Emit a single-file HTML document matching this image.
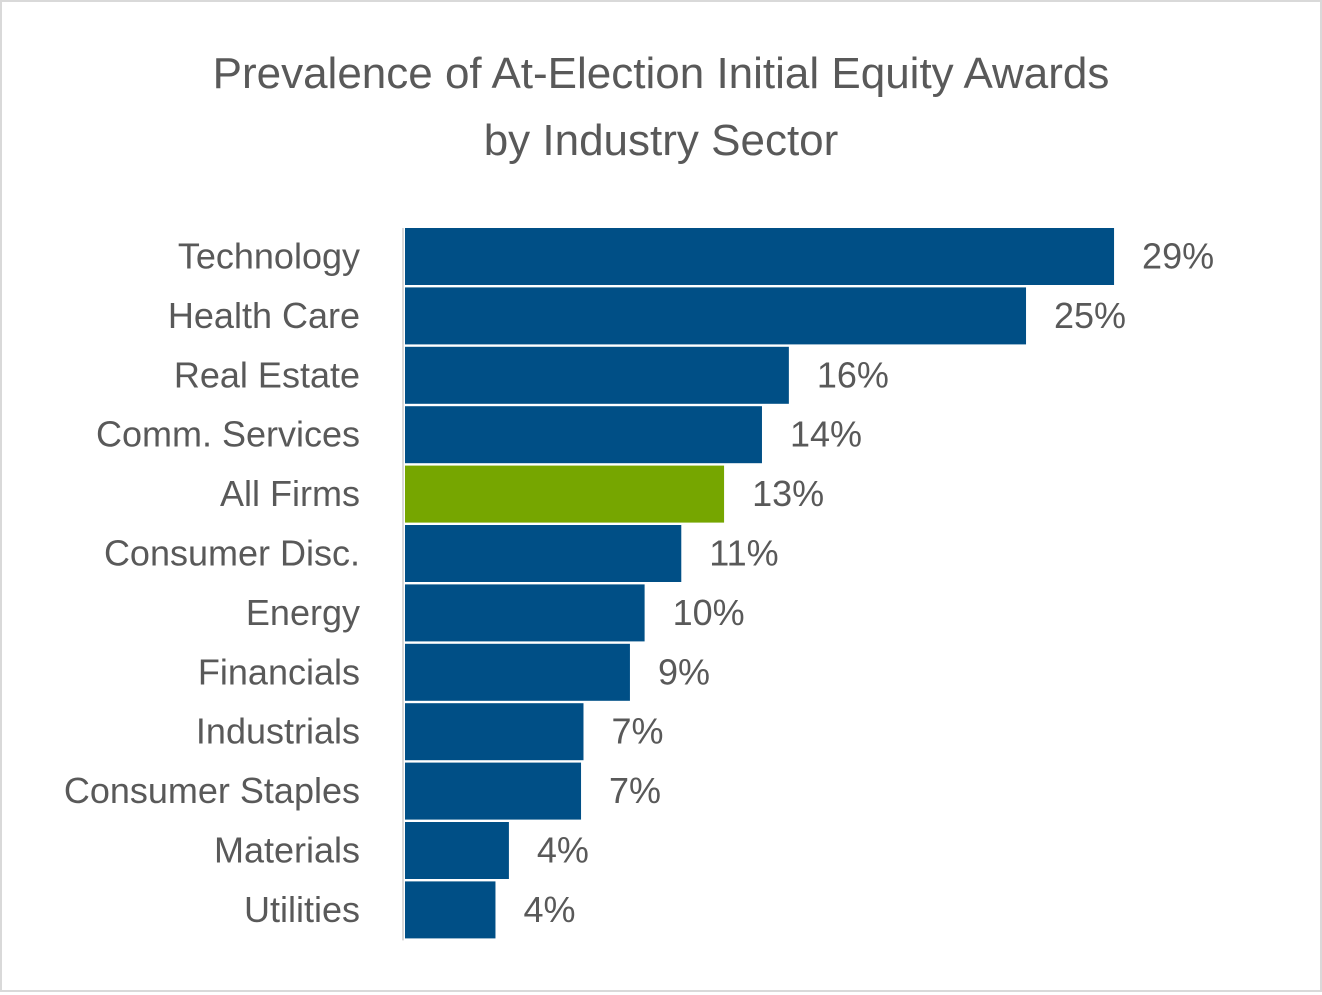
<!DOCTYPE html>
<html><head><meta charset="utf-8"><style>
html,body{margin:0;padding:0;background:#fff}
#wrap{position:relative;width:1322px;height:992px;box-sizing:border-box;border:2px solid #d9d9d9;font-family:"Liberation Sans",sans-serif;color:#595959}
</style></head><body>
<div id="wrap">
<svg id="chart" width="1318" height="988"></svg>
</div>
<script>
const categories=["Technology","Health Care","Real Estate","Comm. Services","All Firms","Consumer Disc.","Energy","Financials","Industrials","Consumer Staples","Materials","Utilities"];
const values=[29,25.4,15.7,14.6,13.05,11.3,9.8,9.2,7.3,7.2,4.25,3.7];
const valueLabels=["29%","25%","16%","14%","13%","11%","10%","9%","7%","7%","4%","4%"];
const highlight=["All Firms"];
const NS="http://www.w3.org/2000/svg";
const svg=document.getElementById('chart');
const ox=-2, oy=-2;
const x0=405+ox, pxPer=24.45, top0=228+oy, pitch=59.4, bh=57;
function xs(v){return x0+v*pxPer;}
function ys(i){return top0+i*pitch;}
function mk(tag,attrs){const e=document.createElementNS(NS,tag);for(const k in attrs)e.setAttribute(k,attrs[k]);svg.appendChild(e);return e;}
const t1=mk('text',{x:661+ox,y:88+oy,'text-anchor':'middle','font-size':44,fill:'#595959'});t1.textContent="Prevalence of At-Election Initial Equity Awards";


const t2=mk('text',{x:661+ox,y:155+oy,'text-anchor':'middle','font-size':44,fill:'#595959'});t2.textContent="by Industry Sector";


categories.forEach((c,i)=>{
  const y=ys(i);
  const r=mk('rect',{x:x0,y:y,width:xs(values[i])-x0,height:bh,fill:highlight.includes(c)?'#76a600':'#004f86'});
  
  
  const l=mk('text',{x:360+ox,y:y+bh/2+12,'text-anchor':'end','font-size':36,fill:'#595959'});l.textContent=c;
  
  
  const v=mk('text',{x:xs(values[i])+28,y:y+bh/2+12,'font-size':36,fill:'#595959'});v.textContent=valueLabels[i];
  
  
});
const ax=mk('line',{x1:403+ox,x2:403+ox,y1:top0,y2:ys(categories.length-1)+bh+2,stroke:'#d9d9d9','stroke-width':2});


</script>
</body></html>
